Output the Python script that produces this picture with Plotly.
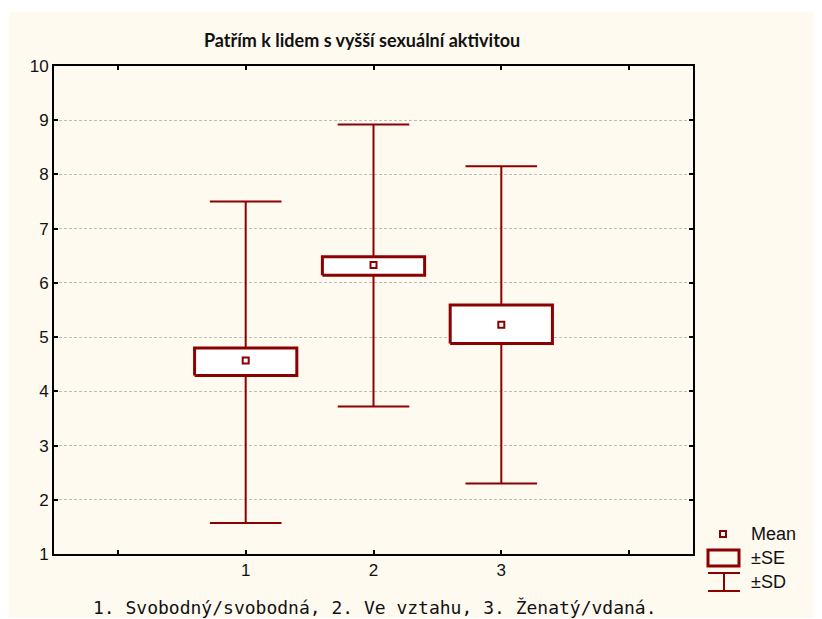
import plotly.graph_objects as go

# ---- data ----
categories = [1, 2, 3]
means = [4.57, 6.33, 5.23]
se_low = [4.29, 6.14, 4.88]
se_high = [4.80, 6.48, 5.59]
sd_low = [1.57, 3.72, 2.30]
sd_high = [7.50, 8.92, 8.15]
y_ticks = [1, 2, 3, 4, 5, 6, 7, 8, 9, 10]
x_ticks = [0, 1, 2, 3, 4]
x_tick_labels = ["", "1", "2", "3", ""]

title_text = "Patřím k lidem s vyšší sexuální aktivitou"
xaxis_text = "1. Svobodný/svobodná, 2. Ve vztahu, 3. Ženatý/vdaná."
legend_labels = ["Mean", "±SE", "±SD"]

RED = "#8B0000"
CREAM = "#FEFAF0"
BOX_HALF = 0.4
CAP_HALF = 0.28

# page offset of the figure (browser body margin)
OFF = 8
W, H = 822 - OFF, 619 - OFF
# plot area in reference page pixels
L, R, T, B = 54, 693, 66, 554

fig = go.Figure()

# whiskers (SD)
wx, wy = [], []
for c, lo, hi, slo, shi in zip(categories, sd_low, sd_high, se_low, se_high):
    wx += [c, c, None, c, c, None, c - CAP_HALF, c + CAP_HALF, None, c - CAP_HALF, c + CAP_HALF, None]
    wy += [lo, slo, None, shi, hi, None, lo, lo, None, hi, hi, None]
fig.add_trace(go.Scatter(x=wx, y=wy, mode="lines", line=dict(color=RED, width=2),
                         hoverinfo="skip", showlegend=False))

# boxes (SE)
bx, by = [], []
for c, lo, hi in zip(categories, se_low, se_high):
    bx += [c - BOX_HALF, c + BOX_HALF, c + BOX_HALF, c - BOX_HALF, c - BOX_HALF, None]
    by += [lo, lo, hi, hi, lo, None]
fig.add_trace(go.Scatter(x=bx, y=by, mode="lines", fill="toself", fillcolor="white",
                         line=dict(color=RED, width=3), hoverinfo="skip", showlegend=False))

# means
fig.add_trace(go.Scatter(x=categories, y=means, mode="markers",
                         marker=dict(symbol="square-open", size=6, color=RED,
                                     line=dict(color=RED, width=2)),
                         showlegend=False))

# helper to convert reference page pixel positions to paper coords
def px(xp):
    return (xp - L) / (R - L)

def py(yp):
    return (B - yp) / (B - T)

shapes = []
# cream background
shapes.append(dict(type="rect", xref="paper", yref="paper", x0=px(9), x1=px(830), y0=py(618), y1=py(12),
                   fillcolor=CREAM, line=dict(width=0), layer="below"))
# legend glyphs
shapes.append(dict(type="rect", xref="paper", yref="paper", x0=px(720), x1=px(726), y0=py(537), y1=py(531),
                   line=dict(color=RED, width=2), fillcolor="white"))
shapes.append(dict(type="rect", xref="paper", yref="paper", x0=px(708), x1=px(739), y0=py(566), y1=py(550),
                   line=dict(color=RED, width=3), fillcolor="rgba(0,0,0,0)"))
shapes.append(dict(type="line", xref="paper", yref="paper", x0=px(708), x1=px(740), y0=py(573), y1=py(573),
                   line=dict(color=RED, width=2)))
shapes.append(dict(type="line", xref="paper", yref="paper", x0=px(708), x1=px(740), y0=py(591), y1=py(591),
                   line=dict(color=RED, width=2)))
shapes.append(dict(type="line", xref="paper", yref="paper", x0=px(724), x1=px(724), y0=py(573), y1=py(591),
                   line=dict(color=RED, width=2)))

annotations = []
for lab, yp in zip(legend_labels, [534, 558, 582]):
    annotations.append(dict(text=lab, xref="paper", yref="paper", x=px(749), y=py(yp),
                            xanchor="left", yanchor="middle", showarrow=False,
                            font=dict(family="Liberation Sans, Arial", size=18, color="#111")))
annotations.append(dict(text=title_text, xref="paper", yref="paper", x=px(362), y=py(40),
                        xanchor="center", yanchor="middle", showarrow=False,
                        font=dict(family="Lato, Carlito, sans-serif", size=18, color="#111", weight="bold")))
annotations.append(dict(text=xaxis_text, xref="paper", yref="paper", x=px(375), y=py(607),
                        xanchor="center", yanchor="middle", showarrow=False,
                        font=dict(family="DejaVu Sans Mono, monospace", size=18, color="#111")))

fig.update_layout(
    width=W, height=H,
    margin=dict(l=L - OFF, r=W - (R - OFF), t=T - OFF, b=H - (B - OFF)),
    paper_bgcolor="white", plot_bgcolor="white",
    shapes=shapes, annotations=annotations,
    xaxis=dict(range=[-0.5, 4.5], tickmode="array", tickvals=x_ticks, ticktext=x_tick_labels,
               ticks="inside", ticklen=4, tickwidth=2, tickcolor="black",
               showline=True, linecolor="black", linewidth=2, mirror="ticks",
               showgrid=False, zeroline=False,
               tickfont=dict(family="Liberation Sans, Arial", size=17, color="#111")),
    yaxis=dict(range=[1, 10], tickmode="array", tickvals=y_ticks,
               ticks="inside", ticklen=4, tickwidth=2, tickcolor="black",
               showline=True, linecolor="black", linewidth=2, mirror="ticks",
               showgrid=True, gridcolor="#BDBDBD", griddash="3px,2px", gridwidth=1,
               zeroline=False,
               tickfont=dict(family="Liberation Sans, Arial", size=17, color="#111")),
)

fig.write_html("out.html")
